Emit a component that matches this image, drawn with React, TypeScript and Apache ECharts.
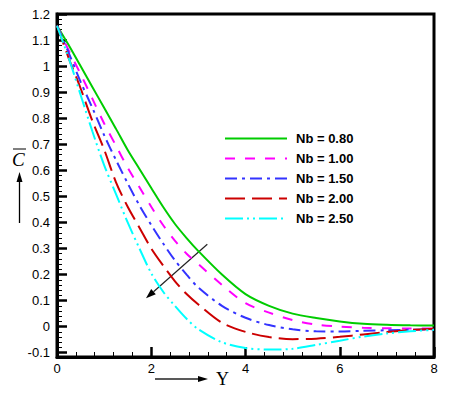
import React, { useEffect, useRef } from "react";
import * as echarts from "echarts";

const xs = [0, 0.25, 0.5, 0.75, 1, 1.25, 1.5, 1.75, 2, 2.25, 2.5, 2.75, 3, 3.5, 4, 4.5, 5, 5.5, 6, 6.5, 7, 7.5, 8];

const nb080 = [1.155, 1.08, 1.0, 0.92, 0.84, 0.76, 0.678, 0.605, 0.532, 0.46, 0.395, 0.34, 0.29, 0.2, 0.125, 0.08, 0.05, 0.033, 0.02, 0.011, 0.007, 0.005, 0.004];
const nb100 = [1.155, 1.06, 0.97, 0.875, 0.78, 0.695, 0.61, 0.535, 0.46, 0.39, 0.33, 0.28, 0.24, 0.16, 0.09, 0.054, 0.025, 0.008, 0.0, -0.004, -0.006, -0.007, -0.007];
const nb150 = [1.155, 1.05, 0.94, 0.84, 0.735, 0.64, 0.55, 0.465, 0.39, 0.32, 0.255, 0.2, 0.15, 0.08, 0.034, 0.006, -0.01, -0.018, -0.019, -0.016, -0.014, -0.012, -0.01];
const nb200 = [1.155, 1.03, 0.915, 0.79, 0.68, 0.555, 0.46, 0.38, 0.3, 0.235, 0.175, 0.125, 0.085, 0.015, -0.02, -0.04, -0.048, -0.046, -0.039, -0.03, -0.021, -0.013, -0.008];
const nb250 = [1.155, 1.03, 0.89, 0.75, 0.62, 0.51, 0.4, 0.3, 0.205, 0.135, 0.08, 0.03, -0.01, -0.06, -0.082, -0.088, -0.085, -0.07, -0.054, -0.038, -0.026, -0.018, -0.012];

const seriesNames = ["Nb = 0.80", "Nb = 1.00", "Nb = 1.50", "Nb = 2.00", "Nb = 2.50"];
const seriesColors = ["#00cc00", "#ff00ff", "#3333ff", "#cc0000", "#00ffff"];
const seriesDash: any[] = ["solid", [10, 10], [12, 5, 3, 5], [20, 7], [18, 4, 2, 4, 2, 4]];
const seriesValues = [nb080, nb100, nb150, nb200, nb250];

const yMajorTicks = [-0.1, 0, 0.1, 0.2, 0.3, 0.4, 0.5, 0.6, 0.7, 0.8, 0.9, 1, 1.1, 1.2];
const yMinorTicks: number[] = [];
for (let i = -5; i <= 60; i++) {
  if (i % 5 !== 0) yMinorTicks.push(Math.round(i * 0.02 * 1000) / 1000);
}

const FONT = "Liberation Sans";

export default function App() {
  const ref = useRef<HTMLDivElement>(null);
  useEffect(() => {
    if (!ref.current) return;
    const chart = echarts.init(ref.current, null, { renderer: "svg" });
    const series = seriesValues.map((vals, i) => ({
      name: seriesNames[i],
      type: "line",
      data: xs.map((x, j) => [x, vals[j]]),
      symbol: "none",
      smooth: 0.3,
      xAxisIndex: 0,
      yAxisIndex: 0,
      lineStyle: { color: seriesColors[i], width: 2, type: seriesDash[i] },
      itemStyle: { color: seriesColors[i] },
    }));

    const ax = [207.3, 244.3];
    const tip = [146, 298.3];
    const dx = tip[0] - ax[0];
    const dy = tip[1] - ax[1];
    const len = Math.sqrt(dx * dx + dy * dy);
    const ux = dx / len;
    const uy = dy / len;
    const bx = tip[0] - 10 * ux;
    const by = tip[1] - 10 * uy;
    const nx = -uy;
    const ny = ux;

    chart.setOption({
      animation: false,
      backgroundColor: "#ffffff",
      grid: {
        left: 57,
        top: 14,
        right: 22,
        bottom: 37,
        show: true,
        borderColor: "#000",
        borderWidth: 3,
        backgroundColor: "transparent",
      },
      legend: {
        orient: "vertical",
        left: 224,
        top: 132,
        padding: 0,
        itemWidth: 62,
        itemHeight: 13,
        itemGap: 7,
        itemStyle: { opacity: 0 },
        textStyle: { fontFamily: FONT, fontSize: 13, fontWeight: "bold", color: "#000", padding: [0, 0, 0, 4] },
        data: seriesNames,
      },
      xAxis: [
        {
          type: "value",
          min: 0,
          max: 8,
          interval: 2,
          axisLine: { show: true, onZero: false, lineStyle: { color: "#000", width: 3 } },
          axisTick: { show: true, inside: true, length: 10, lineStyle: { color: "#000", width: 2.5 } },
          minorTick: { show: true, splitNumber: 5, length: 5, lineStyle: { color: "#000", width: 1 } },
          axisLabel: { fontFamily: FONT, fontSize: 13, color: "#000", margin: 5 },
          splitLine: { show: false },
          minorSplitLine: { show: false },
        },
      ],
      yAxis: [
        {
          type: "value",
          min: -0.1165,
          max: 1.2,
          position: "left",
          axisLine: { show: true, onZero: false, lineStyle: { color: "#000", width: 3 } },
          axisTick: { show: true, inside: true, length: 10, customValues: yMajorTicks, lineStyle: { color: "#000", width: 2.5 } },
          axisLabel: { fontFamily: FONT, fontSize: 13, color: "#000", margin: 7, customValues: yMajorTicks },
          splitLine: { show: false },
        },
        {
          type: "value",
          min: -0.1165,
          max: 1.2,
          position: "left",
          offset: 0,
          axisLine: { show: false, onZero: false },
          axisTick: { show: true, inside: true, length: 5, customValues: yMinorTicks, lineStyle: { color: "#000", width: 1 } },
          axisLabel: { show: false },
          splitLine: { show: false },
        },
      ],
      series,
      graphic: [
        { type: "text", left: 12, top: 150, style: { text: "C", font: "italic 19px 'Liberation Serif'", fill: "#000" } },
        { type: "line", shape: { x1: 13, y1: 149, x2: 26, y2: 149 }, style: { stroke: "#000", lineWidth: 1 } },
        { type: "line", shape: { x1: 19.5, y1: 223, x2: 19.5, y2: 180 }, style: { stroke: "#000", lineWidth: 1.3 } },
        { type: "polygon", shape: { points: [[19.5, 172], [16.5, 182], [22.5, 182]] }, style: { fill: "#000" } },
        { type: "line", shape: { x1: 155, y1: 379, x2: 200, y2: 379 }, style: { stroke: "#222", lineWidth: 1.3 } },
        { type: "polygon", shape: { points: [[208, 379], [198, 376], [198, 382]] }, style: { fill: "#000" } },
        { type: "text", left: 216, top: 370, style: { text: "Y", font: "18px 'Liberation Serif'", fill: "#000" } },
        { type: "line", shape: { x1: ax[0], y1: ax[1], x2: bx, y2: by }, style: { stroke: "#222", lineWidth: 1.2 } },
        {
          type: "polygon",
          shape: { points: [[tip[0], tip[1]], [bx + 3.5 * nx, by + 3.5 * ny], [bx - 3.5 * nx, by - 3.5 * ny]] },
          style: { fill: "#000" },
        },
      ],
    });
    return () => chart.dispose();
  }, []);
  return <div ref={ref} style={{ position: "fixed", left: 0, top: 0, width: 456, height: 394, background: "#fff" }} />;
}
